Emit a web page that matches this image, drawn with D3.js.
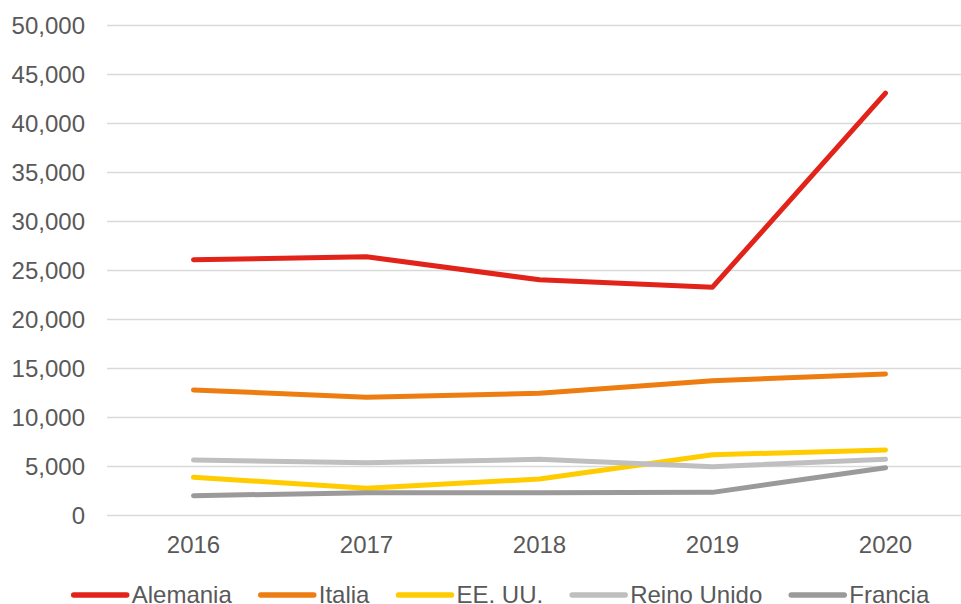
<!DOCTYPE html>
<meta charset="utf-8">
<style>
body { margin: 0; background: #fff; }
text { font-family: "Liberation Sans", Arial, sans-serif; fill: #595959; }
.grid line { stroke: #d9d9d9; stroke-width: 1.4px; }
</style>
<body>
<script src="https://d3js.org/d3.v7.min.js"></script>
<script>
var years = ["2016", "2017", "2018", "2019", "2020"];
var yTicks = [0, 5000, 10000, 15000, 20000, 25000, 30000, 35000, 40000, 45000, 50000];
var names = ["Alemania", "Italia", "EE. UU.", "Reino Unido", "Francia"];
var colors = ["#e2231a", "#ee7d11", "#ffcc00", "#c0bfbf", "#9b999a"];
var alemania = [26100, 26400, 24050, 23300, 43100];
var italia = [12810, 12060, 12470, 13760, 14440];
var eeuu = [3900, 2780, 3720, 6200, 6680];
var reinoUnido = [5660, 5390, 5730, 4980, 5730];
var francia = [2020, 2330, 2330, 2360, 4880];
var series = [alemania, italia, eeuu, reinoUnido, francia];

var width = 961,
    height = 604;

var svg = d3.select("body").append("svg")
    .attr("width", width)
    .attr("height", height);

var x = d3.scaleBand()
    .domain(years)
    .range([107, 972]);

var y = d3.scaleLinear()
    .domain([0, 50000])
    .range([515.5, 25.5]);

var fmt = d3.format(",");

// gridlines
svg.append("g").attr("class", "grid")
  .selectAll("line")
  .data(yTicks)
  .enter().append("line")
    .attr("x1", 107)
    .attr("x2", width)
    .attr("y1", function(d) { return y(d); })
    .attr("y2", function(d) { return y(d); });

// y labels
svg.append("g")
  .selectAll("text")
  .data(yTicks)
  .enter().append("text")
    .attr("x", 85)
    .attr("y", function(d) { return y(d) + 8.5; })
    .attr("text-anchor", "end")
    .style("font-size", "24px")
    .text(function(d) { return fmt(d); });

// x labels
svg.append("g")
  .selectAll("text")
  .data(years)
  .enter().append("text")
    .attr("x", function(d) { return x(d) + x.bandwidth() / 2; })
    .attr("y", 553)
    .attr("text-anchor", "middle")
    .style("font-size", "24px")
    .text(function(d) { return d; });

var line = d3.line()
    .x(function(d, i) { return x(years[i]) + x.bandwidth() / 2; })
    .y(function(d) { return y(d); });

svg.append("g")
  .selectAll("path")
  .data(series)
  .enter().append("path")
    .attr("d", line)
    .style("fill", "none")
    .style("stroke", function(d, i) { return colors[i]; })
    .style("stroke-width", 5)
    .style("stroke-linecap", "round")
    .style("stroke-linejoin", "round");

// legend, laid out from measured text widths then centred
var leg = svg.append("g");
var items = leg.selectAll("g")
  .data(names)
  .enter().append("g");
items.append("line")
    .attr("x1", 0).attr("x2", 53)
    .attr("y1", 595).attr("y2", 595)
    .style("stroke", function(d, i) { return colors[i]; })
    .style("stroke-width", 5.5)
    .style("stroke-linecap", "round");
items.append("text")
    .attr("x", 58)
    .attr("y", 602.5)
    .style("font-size", "24px")
    .text(function(d) { return d; });

var pos = 0;
items.each(function() {
  var w = d3.select(this).select("text").node().getComputedTextLength();
  d3.select(this).attr("transform", "translate(" + pos + ",0)");
  pos += 58 + w + 29;
});
var total = pos - 29;
leg.attr("transform", "translate(" + (501.5 - total / 2) + ",0)");
</script>
</body>
</html>
